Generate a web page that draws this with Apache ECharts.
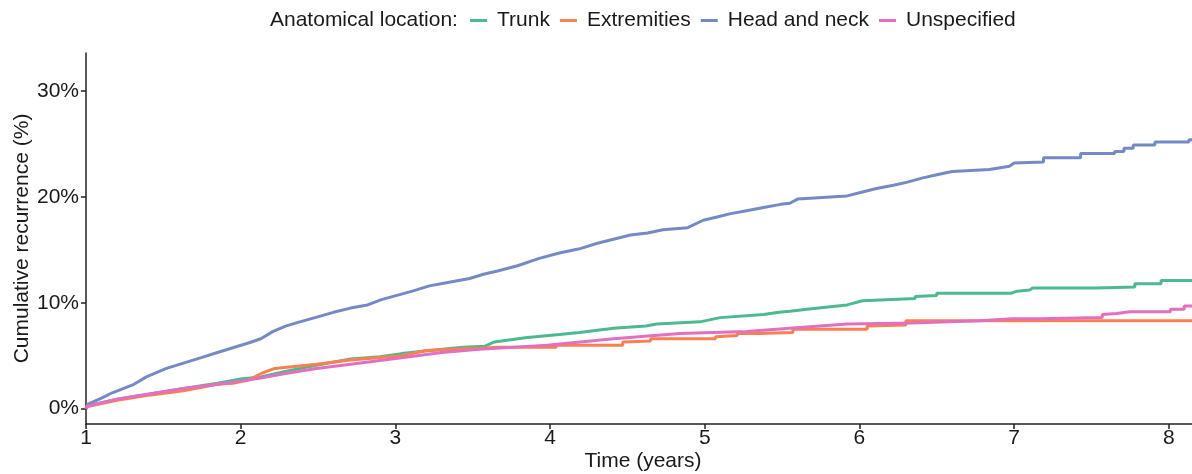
<!DOCTYPE html>
<html>
<head>
<meta charset="utf-8">
<script src="https://cdn.jsdelivr.net/npm/echarts@6/dist/echarts.min.js"></script>
<style>
  html, body { margin: 0; padding: 0; background: #fff; }
  #chart { width: 1192px; height: 474px; }
</style>
</head>
<body>
<div id="chart"></div>
<script>
// 各部位累计复发率 (time in years, value in %), step corners
var seriesNames = ['Trunk', 'Extremities', 'Head and neck', 'Unspecified'];
var seriesColors = ['#4cb98f', '#fb7f50', '#7489c6', '#e36fc0'];

var trunkTime = [1.00, 1.01, 1.20, 1.42, 1.63, 1.85, 2.00, 2.13, 2.28, 2.49, 2.71, 2.90, 3.04, 3.22, 3.44, 3.58, 3.64, 3.84, 4.06, 4.19, 4.41, 4.62, 4.69, 4.97, 5.10, 5.38, 5.48, 5.55, 5.66, 5.92, 6.02, 6.36, 6.36, 6.50, 6.50, 6.98, 7.02, 7.10, 7.12, 7.53, 7.53, 7.78, 7.78, 7.95, 7.95, 8.15];
var trunkPct  = [0, 0.25, 0.9, 1.4, 1.9, 2.4, 2.8, 3.0, 3.5, 4.1, 4.7, 4.9, 5.2, 5.5, 5.8, 5.9, 6.3, 6.7, 7.0, 7.2, 7.6, 7.8, 8.0, 8.2, 8.6, 8.9, 9.1, 9.2, 9.4, 9.8, 10.2, 10.4, 10.6, 10.7, 10.9, 10.9, 11.1, 11.2, 11.4, 11.4, 11.5, 11.5, 11.8, 11.8, 12.1, 12.1];

var extTime = [1.00, 1.01, 1.20, 1.42, 1.63, 1.85, 1.95, 2.05, 2.13, 2.22, 2.49, 2.71, 3.04, 3.20, 3.55, 3.66, 4.04, 4.04, 4.47, 4.47, 4.65, 4.65, 5.07, 5.07, 5.21, 5.21, 5.34, 5.34, 5.57, 5.57, 6.05, 6.05, 6.30, 6.30, 8.15];
var extPct  = [0, 0.2, 0.8, 1.3, 1.7, 2.3, 2.4, 2.7, 3.3, 3.8, 4.2, 4.6, 5.0, 5.5, 5.7, 5.8, 5.8, 6.0, 6.0, 6.3, 6.4, 6.6, 6.6, 6.8, 6.9, 7.1, 7.1, 7.2, 7.2, 7.5, 7.5, 7.8, 7.9, 8.3, 8.3];

var headTime = [1.00, 1.01, 1.10, 1.17, 1.31, 1.39, 1.52, 1.63, 1.74, 1.85, 1.96, 2.05, 2.13, 2.21, 2.29, 2.36, 2.48, 2.60, 2.71, 2.82, 2.91, 3.01, 3.11, 3.22, 3.33, 3.48, 3.57, 3.66, 3.79, 3.93, 4.06, 4.19, 4.30, 4.41, 4.52, 4.63, 4.73, 4.89, 4.99, 5.08, 5.16, 5.27, 5.38, 5.49, 5.55, 5.60, 5.92, 6.00, 6.11, 6.22, 6.31, 6.41, 6.50, 6.60, 6.84, 6.97, 7.00, 7.19, 7.19, 7.43, 7.43, 7.65, 7.65, 7.71, 7.71, 7.77, 7.77, 7.91, 7.91, 8.13, 8.13, 8.15];
var headPct  = [0, 0.4, 1.0, 1.5, 2.3, 3.0, 3.8, 4.3, 4.8, 5.3, 5.8, 6.2, 6.6, 7.3, 7.8, 8.1, 8.6, 9.1, 9.5, 9.8, 10.3, 10.7, 11.1, 11.6, 11.9, 12.3, 12.7, 13.0, 13.5, 14.2, 14.7, 15.1, 15.6, 16.0, 16.4, 16.6, 16.9, 17.1, 17.8, 18.1, 18.4, 18.7, 19.0, 19.3, 19.4, 19.8, 20.1, 20.4, 20.8, 21.1, 21.4, 21.8, 22.1, 22.4, 22.6, 22.9, 23.2, 23.3, 23.7, 23.7, 24.1, 24.1, 24.3, 24.3, 24.6, 24.6, 24.9, 24.9, 25.2, 25.2, 25.4, 25.4];

var unspTime = [1.00, 1.01, 1.20, 1.42, 1.63, 1.85, 2.00, 2.13, 2.28, 2.49, 2.71, 3.04, 3.30, 3.54, 3.98, 4.41, 4.84, 5.27, 5.55, 5.92, 6.34, 6.78, 6.99, 7.16, 7.16, 7.57, 7.57, 7.66, 7.75, 8.01, 8.01, 8.10, 8.10, 8.15];
var unspPct  = [0, 0.25, 0.9, 1.4, 1.9, 2.3, 2.6, 2.9, 3.3, 3.8, 4.2, 4.8, 5.3, 5.6, 6.0, 6.6, 7.1, 7.3, 7.6, 8.0, 8.1, 8.3, 8.5, 8.5, 8.6, 8.6, 8.9, 9.0, 9.15, 9.15, 9.4, 9.4, 9.7, 9.7];

var xTicks = [1, 2, 3, 4, 5, 6, 7, 8];
var yTicks = [0, 10, 20, 30];

function pairs(t, v) {
    return t.map(function (x, i) { return [x, v[i]]; });
}

var allData = [
    pairs(trunkTime, trunkPct),
    pairs(extTime, extPct),
    pairs(headTime, headPct),
    pairs(unspTime, unspPct)
];

var font = 'Liberation Sans, Arial, sans-serif';
var axisColor = '#222';
var textColor = '#1a1a1a';

var myChart = echarts.init(document.getElementById('chart'));
var option = {
    animation: false,
    color: seriesColors,
    title: {
        text: 'Anatomical location:',
        left: 270,
        top: 10,
        padding: 0,
        textStyle: {
            fontFamily: font,
            fontSize: 21,
            fontWeight: 'normal',
            color: textColor
        }
    },
    legend: {
        left: 470,
        top: 10,
        padding: 0,
        itemWidth: 17,
        itemHeight: 3,
        itemGap: 10,
        icon: 'rect',
        textStyle: {
            fontFamily: font,
            fontSize: 21,
            color: textColor,
            padding: [0, 0, 0, 5]
        },
        data: seriesNames
    },
    grid: {
        left: 86,
        right: 0,
        top: 53,
        bottom: 50,
        containLabel: false,
        outerBoundsMode: 'none'
    },
    xAxis: {
        type: 'value',
        min: 1,
        max: 8.15,
        name: 'Time (years)',
        nameLocation: 'middle',
        nameGap: 27,
        nameMoveOverlap: false,
        nameTextStyle: { fontFamily: font, fontSize: 21, color: textColor, padding: [0, 0, 0, 8] },
        axisLine: { show: true, onZero: false, lineStyle: { color: axisColor, width: 1.5 } },
        axisTick: { show: true, length: 5, lineStyle: { color: axisColor, width: 1.5 }, customValues: xTicks },
        axisLabel: { fontFamily: font, fontSize: 21, color: textColor, margin: 4, customValues: xTicks },
        splitLine: { show: false }
    },
    yAxis: {
        type: 'value',
        min: -1.45,
        max: 33.6,
        name: 'Cumulative recurrence (%)',
        nameLocation: 'middle',
        nameGap: 53,
        nameMoveOverlap: false,
        nameTextStyle: { fontFamily: font, fontSize: 21, color: textColor },
        axisLine: { show: true, onZero: false, lineStyle: { color: axisColor, width: 1.5 } },
        axisTick: { show: true, length: 5, lineStyle: { color: axisColor, width: 1.5 }, customValues: yTicks },
        axisLabel: {
            fontFamily: font, fontSize: 21, color: textColor, margin: 7,
            customValues: yTicks,
            formatter: function (v) { return v + '%'; }
        },
        splitLine: { show: false }
    },
    series: seriesNames.map(function (name, i) {
        return {
            name: name,
            type: 'line',
            showSymbol: false,
            symbol: 'none',
            lineStyle: { width: 3, color: seriesColors[i] },
            data: allData[i]
        };
    })
};

myChart.setOption(option);
</script>
</body>
</html>
